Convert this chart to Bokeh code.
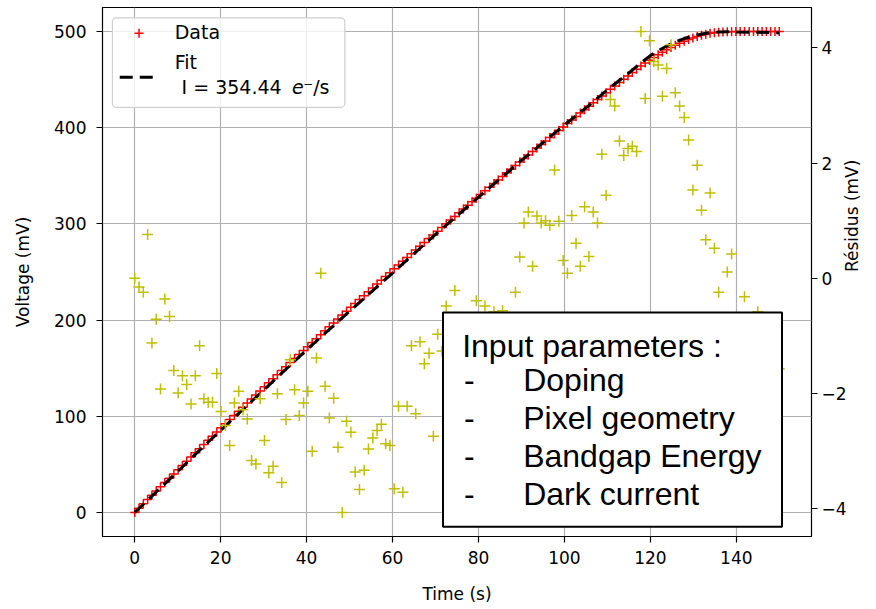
import math
from bokeh.plotting import figure
from bokeh.models import (ColumnDataSource, Range1d, LinearAxis, BoxAnnotation, Label,
                          CustomJSTickFormatter)
from bokeh.embed import file_html
from bokeh.resources import INLINE

# ---------------- data ----------------
time_s = [
    0.0, 1.0, 2.0, 3.0, 4.0, 5.0, 6.0, 7.0,
    8.1, 9.1, 10.1, 11.1, 12.1, 13.1, 14.1, 15.1, 16.1, 17.1, 18.1, 19.1, 20.1, 21.1, 22.1,
    23.2, 24.2, 25.2, 26.2, 27.2, 28.2, 29.2, 30.2, 31.2, 32.2, 33.2, 34.2, 35.2, 36.2, 37.2,
    38.3, 39.3, 40.3, 41.3, 42.3, 43.3, 44.3, 45.3, 46.3, 47.3, 48.3, 49.3, 50.3, 51.3, 52.3,
    53.4, 54.4, 55.4, 56.4, 57.4, 58.4, 59.4, 60.4, 61.4, 62.4, 63.4, 64.4, 65.4, 66.4, 67.4,
    68.5, 69.5, 70.5, 71.5, 72.5, 73.5, 74.5, 75.5, 76.5, 77.5, 78.5, 79.5, 80.5, 81.5,
    82.6, 83.6, 84.6, 85.6, 86.6, 87.6, 88.6, 89.6, 90.6, 91.6, 92.6, 93.6, 94.6, 95.6, 96.6,
    97.7, 98.7, 99.7, 100.7, 101.7, 102.7, 103.7, 104.7, 105.7, 106.7, 107.7, 108.7, 109.7, 110.7, 111.7,
    112.8, 113.8, 114.8, 115.8, 116.8, 117.8, 118.8, 119.8, 120.8, 121.8, 122.8, 123.8, 124.8, 125.8, 126.8,
    127.9, 128.9, 129.9, 130.9, 131.9, 132.9, 133.9, 134.9, 135.9, 136.9, 137.9, 138.9, 139.9, 140.9, 141.9,
    143.0, 144.0, 145.0, 146.0, 147.0, 148.0, 149.0, 150.0,
]

voltage_mv = [
    0.0, 4.5, 9.0, 13.4, 17.9, 22.3, 26.8, 31.2, 35.6, 40.0,
    44.4, 48.8, 53.2, 57.6, 62.0, 66.3, 70.7, 75.0, 79.3, 83.7,
    88.0, 92.3, 96.6, 100.9, 105.2, 109.4, 113.7, 117.9, 122.2, 126.4,
    130.6, 134.9, 139.1, 143.3, 147.5, 151.6, 155.8, 160.0, 164.1, 168.3,
    172.4, 176.6, 180.7, 184.8, 188.9, 193.0, 197.1, 201.1, 205.2, 209.3,
    213.3, 217.3, 221.4, 225.4, 229.4, 233.4, 237.4, 241.4, 245.4, 249.3,
    253.3, 257.2, 261.2, 265.1, 269.1, 273.0, 276.9, 280.8, 284.7, 288.5,
    292.4, 296.3, 300.1, 304.0, 307.8, 311.6, 315.4, 319.3, 323.0, 326.8,
    330.6, 334.4, 338.2, 341.9, 345.7, 349.4, 353.1, 356.9, 360.6, 364.3,
    368.0, 371.6, 375.3, 379.0, 382.6, 386.3, 389.9, 393.6, 397.2, 400.8,
    404.4, 408.0, 411.6, 415.2, 418.7, 422.3, 425.9, 429.4, 432.9, 436.4,
    440.0, 443.5, 447.0, 450.5, 453.9, 457.4, 460.8, 464.1, 467.2, 470.2,
    473.0, 475.8, 478.5, 481.1, 483.5, 485.8, 487.9, 489.9, 491.7, 493.3,
    494.8, 496.1, 497.2, 498.1, 498.8, 499.3, 499.6, 499.8, 499.9, 500.0,
    500.0, 500.0, 500.0, 500.0, 500.0, 500.0, 500.0, 500.0, 500.0, 500.0,
]

residual_mv = [
    0.00, -0.15, -0.24, 0.76, -1.12, -0.71, -1.92, -0.36, -0.66, -1.60,
    -1.99, -1.69, -1.84, -2.18, -1.69, -1.17, -2.09, -2.15, -2.15, -1.65,
    -2.31, -2.55, -2.90, -2.16, -1.96, -2.28, -2.44, -3.16, -3.22, -2.09,
    -2.81, -3.37, -3.26, -2.00, -3.54, -2.45, -1.41, -1.93, -2.38, -2.16,
    -1.96, -3.00, -1.38, 0.09, -1.87, -2.42, -2.08, -2.93, -4.06, -2.48,
    -2.67, -3.36, -3.66, -3.33, -2.96, -2.77, -2.64, -2.53, -2.87, -2.90,
    -3.65, -2.22, -3.71, -2.22, -1.17, -2.35, -1.10, -1.48, -1.30, -2.74,
    -0.97, -1.26, -0.48, -1.20, -0.21, -1.30, -0.90, -1.60, -1.10, -0.39,
    -1.40, -0.48, -0.80, -0.58, -1.20, -0.56, -0.90, -1.50, -0.24, 0.37,
    0.96, 1.15, 0.21, 1.08, 0.96, 1.00, 0.92, 1.88, 0.99, 0.31,
    0.09, 1.09, 0.61, 0.21, 1.24, 0.38, 1.15, 0.96, 2.15, 1.44,
    3.10, 2.99, 2.38, 2.13, 2.25, 2.29, 2.20, 4.28, 3.12, 4.12,
    3.76, 3.70, 3.16, 3.64, 4.05, 3.22, 2.99, 2.79, 2.40, 1.53,
    1.96, 1.18, 0.67, 1.48, 0.52, -0.24, -0.90, 0.11, 0.42, -0.80,
    -1.10, -0.32, -1.30, -0.90, -0.58, -1.20, -1.50, -1.00, -1.40, -1.57,
]

fit_time_s = [0, 5, 10, 15, 20, 30, 40, 50, 60, 70, 80, 90, 100, 105, 110, 115,
              118, 120, 122, 124, 126, 128, 130, 132, 134, 136, 138, 140, 145, 150]
fit_voltage_mv = [0.0, 21.3, 42.6, 64.3, 85.4, 127.2, 169.1, 209.2, 248.9, 289.2, 327.8,
                  366.0, 402.8, 420.6, 439.4, 456.9, 468.2, 475.0, 480.5, 485.5, 489.6,
                  493.0, 495.4, 497.4, 499.0, 499.6, 499.9, 499.5, 499.3, 498.6]

x_ticks = [0, 20, 40, 60, 80, 100, 120, 140]
v_ticks = [0, 100, 200, 300, 400, 500]
r_ticks = [-4, -2, 0, 2, 4]

x_label = "Time (s)"
v_label = "Voltage (mV)"
r_label = "Résidus (mV)"
legend_data_label = "Data"
legend_fit_label = "Fit"
legend_fit_value = "I = 354.44"
legend_fit_e = "e"
legend_fit_rest = "\u207b/s"
box_title = "Input parameters :"
box_items = ["Doping", "Pixel geometry", "Bandgap Energy", "Dark current"]

FONT = "DejaVu Sans"
BOX_FONT = "Liberation Sans"

# ---------------- figure ----------------
p = figure(width=876, height=609,
           x_range=Range1d(-7.5, 157.5), y_range=Range1d(-25, 525),
           output_backend="svg", toolbar_location=None,
           min_border_left=102, min_border_right=65,
           min_border_top=7, min_border_bottom=73,
           background_fill_color="white", border_fill_color="white")
p.extra_y_ranges = {"res": Range1d(-4.477, 4.697)}
p.outline_line_color = "black"
p.outline_line_width = 1.2

p.xaxis.ticker = x_ticks
p.yaxis.ticker = v_ticks
p.xgrid.grid_line_color = "#b0b0b0"
p.ygrid.grid_line_color = "#b0b0b0"
p.xgrid.grid_line_width = 1.2
p.ygrid.grid_line_width = 1.2


def style_axis(ax, label_standoff, axis_label_standoff):
    ax.axis_line_color = None
    ax.major_tick_line_color = "black"
    ax.major_tick_line_width = 1.2
    ax.major_tick_out = 6
    ax.major_tick_in = 0
    ax.minor_tick_line_color = None
    ax.major_label_text_font = FONT
    ax.major_label_text_font_size = "17px"
    ax.major_label_text_color = "black"
    ax.major_label_standoff = label_standoff
    ax.axis_label_text_font = FONT
    ax.axis_label_text_font_size = "17px"
    ax.axis_label_text_font_style = "normal"
    ax.axis_label_text_color = "black"
    ax.axis_label_standoff = axis_label_standoff


p.xaxis.axis_label = x_label
p.yaxis.axis_label = v_label
style_axis(p.xaxis[0], 8, 17)
style_axis(p.yaxis[0], 10, 18)

r_ax = LinearAxis(y_range_name="res", ticker=r_ticks, axis_label=r_label)
r_ax.formatter = CustomJSTickFormatter(
    code="return tick < 0 ? '\\u2212' + Math.abs(tick) : String(tick);")
style_axis(r_ax, 4, 2)
if "axis_label_orientation" in r_ax.properties():
    r_ax.axis_label_orientation = math.pi / 2
p.add_layout(r_ax, "right")

# ---------------- glyphs ----------------
src = ColumnDataSource(dict(t=time_s, v=voltage_mv, r=residual_mv))
p.scatter("t", "v", source=src, marker="cross", size=9,
          line_color="red", line_width=1.5)
p.line(fit_time_s, fit_voltage_mv, line_color="black", line_width=3, line_dash="13 7")
p.scatter("t", "r", source=src, marker="cross", size=11,
          line_color="#bfbf00", line_width=1.5, y_range_name="res")

# ---------------- legend (top-left) ----------------
p.add_layout(BoxAnnotation(left=-5.19, right=48.9, bottom=421.1, top=514.3,
                           fill_color="white", fill_alpha=0.8,
                           line_color="#d0d0d0", line_alpha=1.0, line_width=1.2,
                           border_radius=4, level="underlay"))
p.scatter([1.0], [498.3], marker="cross", size=9, line_color="red",
          line_width=1.5, level="overlay")
p.line([-3.49, 4.88], [452.4, 452.4], line_color="black", line_width=3,
       line_dash="13 7", level="overlay")
for x, y, txt, style in [(9.3, 499.4, legend_data_label, "normal"),
                         (9.3, 468.1, legend_fit_label, "normal"),
                         (10.9, 442.0, legend_fit_value, "normal"),
                         (36.6, 442.0, legend_fit_e, "italic"),
                         (39.2, 442.0, legend_fit_rest, "normal")]:
    p.add_layout(Label(x=x, y=y, text=txt, text_font=FONT, text_font_size="19px",
                       text_font_style=style, text_color="black",
                       text_baseline="middle", text_align="left"))

# ---------------- text box ----------------
p.add_layout(BoxAnnotation(left=71.74, right=150.63, bottom=-14.9, top=207.9,
                           fill_color="white", fill_alpha=1.0,
                           line_color="black", line_alpha=1.0, line_width=2))
p.add_layout(Label(x=76.2, y=173.5, text=box_title, text_font=BOX_FONT,
                   text_font_size="32px", text_color="black",
                   text_baseline="middle", text_align="left"))
for y, item in zip([137.2, 98.0, 58.5, 19.0], box_items):
    p.add_layout(Label(x=76.6, y=y, text="-", text_font=BOX_FONT,
                       text_font_size="32px", text_color="black",
                       text_baseline="middle", text_align="left"))
    p.add_layout(Label(x=90.4, y=y, text=item, text_font=BOX_FONT,
                       text_font_size="32px", text_color="black",
                       text_baseline="middle", text_align="left"))

open("out.html", "w").write(file_html(p, INLINE))
